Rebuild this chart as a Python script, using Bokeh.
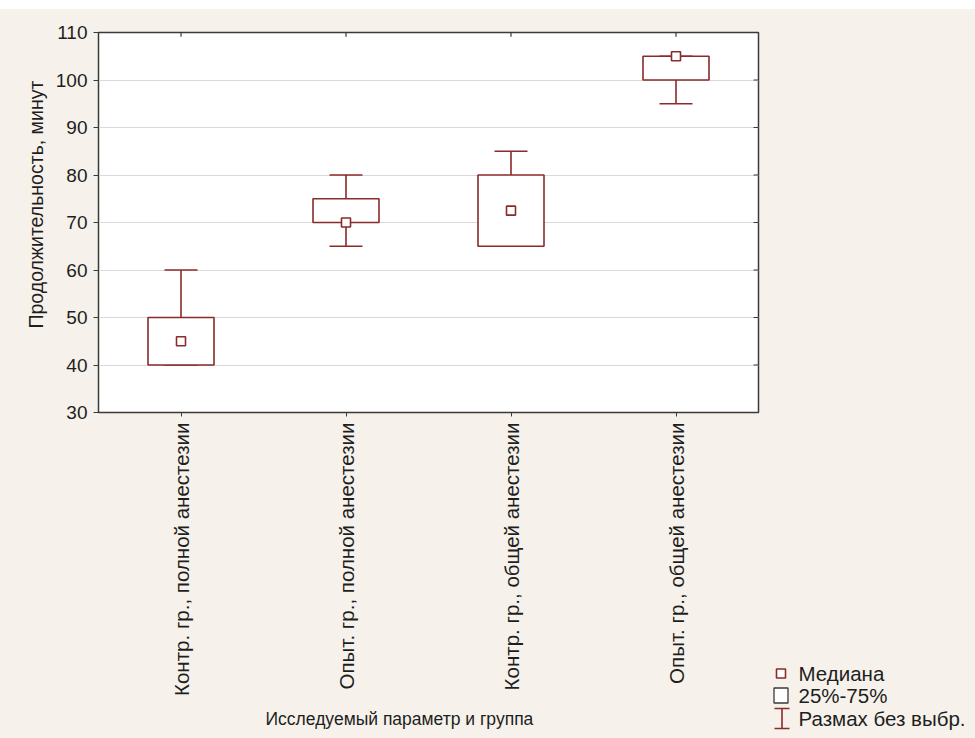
import math
from bokeh.plotting import figure
from bokeh.layouts import row, column
from bokeh.models import FactorRange, Range1d, FixedTicker, ColumnDataSource, Title, Spacer
from bokeh.core.properties import value
from bokeh.embed import file_html
from bokeh.resources import INLINE

# Box statistics per group (minutes)
groups = ["Контр. гр., полной анестезии", "Опыт. гр., полной анестезии",
          "Контр. гр., общей анестезии", "Опыт. гр., общей анестезии"]
minimum = [40, 65, 65, 95]
q1 = [40, 70, 65, 100]
median = [45, 70, 72.5, 105]
q3 = [50, 75, 80, 105]
maximum = [60, 80, 85, 105]
y_ticks = [30, 40, 50, 60, 70, 80, 90, 100, 110]
legend_labels = ["Медиана", "25%-75%", "Размах без выбр."]

BOX_COLOR = "#8b2a2a"
BG = "#f6f2eb"
FONT = "Liberation Sans"
TEXT = "#1e1e1e"
FRAME = "#3a3a3a"
TOP_STRIP = 9

# ---------------- main chart ----------------
p = figure(width=760, height=738 - TOP_STRIP, x_range=FactorRange(*groups, range_padding=0),
           y_range=(30, 110), output_backend="svg", toolbar_location=None,
           min_border_left=98, min_border_right=2, min_border_top=32 - TOP_STRIP,
           min_border_bottom=326, background_fill_color="white",
           border_fill_color=BG)

p.outline_line_color = FRAME
p.outline_line_width = 1.5
p.xgrid.grid_line_color = None
p.ygrid.grid_line_color = "#d9d9d9"
p.ygrid.ticker = FixedTicker(ticks=y_ticks)

src = ColumnDataSource(dict(
    g=groups, lo=minimum, q1=q1, med=median, q3=q3, hi=maximum,
    cl=[(g, -0.1) for g in groups], cr=[(g, 0.1) for g in groups],
))

# whisker stems and caps
p.segment(x0="g", y0="q3", x1="g", y1="hi", source=src, line_color=BOX_COLOR, line_width=1.6)
p.segment(x0="g", y0="q1", x1="g", y1="lo", source=src, line_color=BOX_COLOR, line_width=1.6)
p.segment(x0="cl", y0="hi", x1="cr", y1="hi", source=src, line_color=BOX_COLOR, line_width=1.6)
p.segment(x0="cl", y0="lo", x1="cr", y1="lo", source=src, line_color=BOX_COLOR, line_width=1.6)
# interquartile boxes
p.vbar(x="g", width=0.4, bottom="q1", top="q3", source=src, fill_color="white",
       line_color=BOX_COLOR, line_width=1.6)
# medians
p.scatter(x="g", y="med", source=src, marker="square", size=9, fill_color="white",
          line_color=BOX_COLOR, line_width=1.6)

# short inward ticks along the top and right edges of the frame
top_src = ColumnDataSource(dict(x=groups, y0=[110 - 0.9] * len(groups), y1=[110] * len(groups)))
p.segment(x0="x", y0="y0", x1="x", y1="y1", source=top_src, line_color=FRAME, line_width=1.2)
right_src = ColumnDataSource(dict(x0=[(groups[-1], 0.47)] * len(y_ticks),
                                  x1=[(groups[-1], 0.5)] * len(y_ticks), y=y_ticks))
p.segment(x0="x0", y0="y", x1="x1", y1="y", source=right_src, line_color=FRAME, line_width=1.2)

yax = p.yaxis[0]
yax.ticker = FixedTicker(ticks=y_ticks)
yax.major_label_text_font = FONT
yax.major_label_text_font_size = "19px"
yax.major_label_text_color = TEXT
yax.major_tick_in = 0
yax.major_tick_out = 5
yax.minor_tick_line_color = None
yax.axis_line_color = FRAME
yax.major_tick_line_color = FRAME
yax.major_label_standoff = 6

xax = p.xaxis[0]
xax.major_label_orientation = math.pi / 2
xax.major_label_text_font = FONT
xax.major_label_text_font_size = "20.5px"
xax.major_label_text_color = TEXT
xax.major_tick_in = 0
xax.major_tick_out = 4
xax.axis_line_color = FRAME
xax.major_tick_line_color = FRAME
xax.major_label_standoff = 6

# axis titles
p.add_layout(Title(text="Продолжительность, минут", align="left", offset=84,
                   text_font=FONT, text_font_size="19.5px", text_font_style="normal",
                   text_color=TEXT, standoff=12), "left")
p.add_layout(Title(text="Исследуемый параметр и группа", align="left", offset=167,
                   text_font=FONT, text_font_size="17.5px", text_font_style="normal",
                   text_color=TEXT, standoff=17), "below")

# ---------------- legend panel ----------------
lg = figure(width=215, height=88, x_range=Range1d(0, 215), y_range=Range1d(738, 650),
            output_backend="svg", toolbar_location=None, min_border=0,
            background_fill_color=BG, border_fill_color=BG)
lg.axis.visible = False
lg.grid.visible = False
lg.outline_line_color = None

row_y = [673, 695, 718]
sym_x = 20.5
lg.scatter(x=[sym_x], y=[row_y[0]], marker="square", size=9, fill_color="white",
           line_color=BOX_COLOR, line_width=1.6)
lg.quad(left=[sym_x - 7], right=[sym_x + 7], top=[row_y[1] - 7.5], bottom=[row_y[1] + 7.5],
        fill_color="white", line_color=FRAME, line_width=1.3)
lg.segment(x0=[sym_x + 1, sym_x - 6.5, sym_x - 6.5], x1=[sym_x + 1, sym_x + 8.5, sym_x + 8.5],
           y0=[row_y[2] - 10, row_y[2] - 10, row_y[2] + 10],
           y1=[row_y[2] + 10, row_y[2] - 10, row_y[2] + 10],
           line_color=BOX_COLOR, line_width=1.6)
lg.text(x=[38] * 3, y=row_y, text=legend_labels, text_baseline="middle",
        text_font=value(FONT), text_font_size=value("20.5px"), text_color=TEXT)

side = column(Spacer(width=215, height=650 - TOP_STRIP, styles={"background-color": BG}), lg,
              spacing=0, styles={"background-color": BG})
body = row(p, side, spacing=0, styles={"background-color": BG})
layout = column(Spacer(width=975, height=TOP_STRIP, styles={"background-color": "white"}),
                body, spacing=0)
open("out.html", "w").write(file_html(layout, INLINE))
